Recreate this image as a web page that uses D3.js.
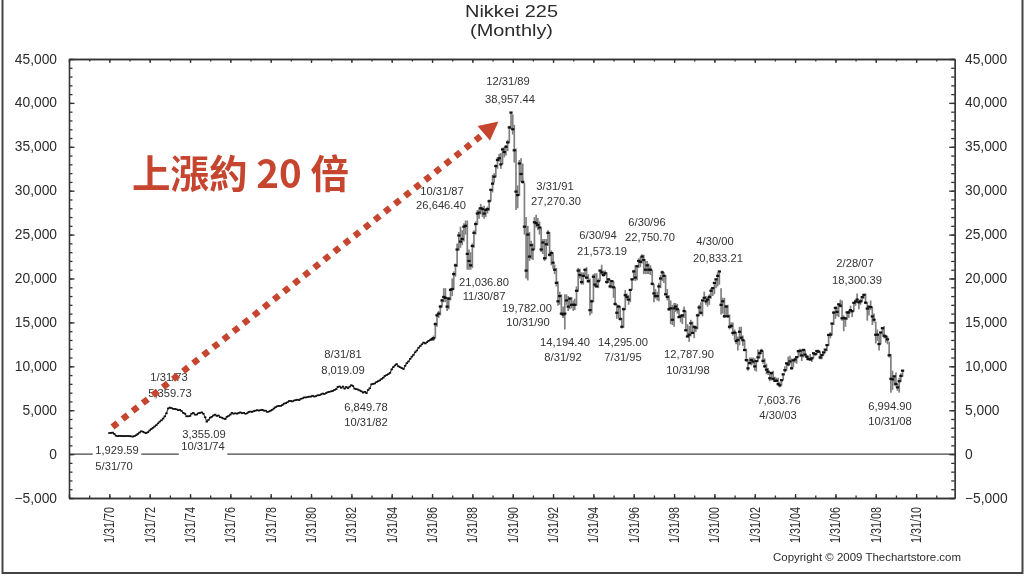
<!DOCTYPE html>
<html lang="zh-Hant"><head><meta charset="utf-8">
<script src="https://cdn.jsdelivr.net/npm/d3@7/dist/d3.min.js"></script>
<style>html,body{margin:0;padding:0;background:#fff;overflow:hidden}svg{display:block}
text{font-family:"Liberation Sans",Arial,sans-serif;fill:#2b2b2b}</style></head><body>
<svg id="c" width="1024" height="576"></svg>
<script>
// ---- Data ----
const titleLines = ["Nikkei 225", "(Monthly)"];
const copyrightText = "Copyright © 2009 Thechartstore.com";
const calloutText = "上漲約 20 倍";
const yTickValues = [-5000,0,5000,10000,15000,20000,25000,30000,35000,40000,45000];
const xLabelYears = [1970,1972,1974,1976,1978,1980,1982,1984,1986,1988,1990,1992,1994,1996,1998,2000,2002,2004,2006,2008,2010];
const closes1970to1985 = [
2400,2420,2450,2300,2100,2050,2080,2070,2050,2050,2060,2060,
2050,2020,2000,2050,2150,2300,2450,2600,2550,2450,2400,2500,
2700,2850,3000,3150,3300,3500,3700,3850,4050,4300,4650,5200,
5300,5250,5150,5150,5100,5000,5050,4900,4700,4600,4300,4300,
4350,4600,4700,4500,4500,4650,4700,4750,4600,4200,3700,3900,
4150,4250,4400,4500,4350,4400,4200,4150,4050,4000,4250,4350,
4500,4700,4600,4650,4600,4700,4750,4650,4700,4600,4650,4800,
4850,4800,4900,4950,5000,4950,5000,5050,4950,4950,4800,4850,
4950,5050,5200,5350,5450,5500,5500,5600,5750,5800,5900,6050,
6050,6000,6100,6150,6200,6150,6300,6350,6450,6450,6500,6550,
6550,6650,6550,6600,6700,6700,6800,6900,6850,6950,7050,7100,
7150,7200,7300,7400,7650,7700,7550,7700,7450,7650,7500,7680,
7850,7750,7450,7400,7350,7250,7150,7000,7100,6950,7300,7500,
7950,8000,8050,8200,8300,8400,8550,8700,8900,9000,9100,9250,
9650,9900,10100,10250,10000,9900,9800,9700,10050,10350,10550,10850,
11100,11300,11600,11800,12100,12300,12500,12700,12600,12750,12900,13000];
const closes1986to2009 = [
13100,13200,14800,15800,16000,16800,17500,17900,17800,16800,17700,18700,
18800,20500,21500,23300,24900,24200,24500,25900,26000,22800,22000,21500,
23700,25200,26200,27400,27500,28000,27900,27400,27800,27900,28800,30100,
30800,31600,32800,33500,33700,33000,34700,34400,35000,35500,37200,38900,
37000,34600,29900,29500,33100,31900,31000,25900,20900,25000,22500,23800,
23300,26400,26300,26100,25800,23300,24100,22300,23900,25200,22700,22900,
21800,21000,19500,17400,18000,16000,15900,16000,17500,16800,17700,17000,
17000,17000,18600,20900,20400,19600,20300,21000,20100,19700,16400,17400,
20200,19300,19100,19700,20900,20700,20400,20600,19600,19900,19100,19700,
19000,17100,16100,16800,15400,14500,16500,18100,17900,17600,18700,19900,
20800,20100,21400,22000,21900,22500,22100,21000,21500,21000,21000,19400,
18300,18000,18000,19100,20000,20700,20300,18200,17900,16500,16600,15300,
16600,16800,16500,15600,15700,15800,16300,14100,13400,13600,14900,13800,
14500,14400,15800,16700,16100,17500,17800,17400,17600,17900,18600,18900,
19500,19900,20300,20800,17000,17400,15700,16800,15700,14500,14600,13800,
13840,12880,13000,13930,13260,12970,11860,10710,9770,10370,10700,10540,
9990,10590,11020,11490,11760,10620,10000,9620,9380,8640,9220,8580,
8340,8360,7970,7830,8420,9080,9560,10340,10220,10560,9780,10680,
10780,11040,11720,11760,11240,11860,11330,11080,10820,10770,10900,11490,
11390,11740,11670,11010,11280,11580,11900,12410,13570,13610,14870,16110,
16650,16200,17060,16900,15470,15500,15450,16140,16130,16400,16270,17230,
17380,17600,17290,17400,17880,18140,17250,16570,16790,16740,15680,15310,
13590,13600,12530,13850,14340,13480,13380,13070,11260,8580,8510,8860,
7990,7600,8300,8900,9500];
const highs1986to2009 = [
13300,13500,15000,16000,16300,17000,17700,18900,18900,17900,17900,18900,
20000,20800,21700,24000,25300,25900,25500,26300,26600,26600,23300,23000,
24000,25500,26500,27800,28100,28500,28200,28300,28000,28200,29000,30200,
31800,32000,33000,33800,34200,34300,34900,35000,35200,35800,37400,38957,
38700,37500,34800,30600,33500,33700,33100,30900,27000,26000,25300,24300,
24000,27000,27270,26900,26500,25900,24500,24500,24500,25500,25300,23200,
23000,21600,21200,19700,18500,18200,16800,18200,18200,18000,17900,17900,
17500,17700,19100,21200,21100,20700,20700,21100,21300,20500,20000,17600,
20500,20600,20600,20000,21000,21573,20900,20900,20700,20000,19900,19800,
19700,19000,17100,17000,16900,15500,16700,18700,18300,18100,18800,20000,
21000,21500,21500,22300,22500,22750,22700,22000,22000,21700,21500,21000,
19400,18800,18500,19500,20400,20900,20700,20400,18800,18100,17500,17000,
17200,17200,17100,16500,15900,15900,16800,16300,14800,14600,15300,15100,
14600,14600,16000,17000,17300,17600,18500,18000,17900,18200,18900,19000,
19600,20000,20700,20833,18900,17800,17800,17000,17000,15900,15000,15000,
14200,13900,13400,14500,14500,13500,13000,12000,10800,11000,11000,11000,
10900,10700,11900,11700,12000,11800,10900,10300,9800,9400,9400,9500,
8800,8700,8700,8200,8500,9200,10000,10400,11100,11200,10900,10700,
11000,11100,11800,12000,11900,12000,11900,11300,11200,11400,11100,11500,
11500,11800,11900,11700,11300,11700,11900,12500,13600,13900,14900,16300,
16800,16800,17100,17600,17500,15800,15600,16200,16400,16900,16400,17300,
17600,18300,17500,17700,17900,18200,18300,17300,16900,17500,16800,16000,
15100,14200,13700,13900,14400,14600,13600,13400,12800,11400,9500,8900,
9300,8000,8700,9200,9600];
const lows1986to2009 = [
12900,12900,13200,14500,15500,15800,16700,17300,17300,16300,16500,17500,
18000,18700,20200,21300,23200,23500,23800,24200,25000,21000,21000,21000,
21200,23500,25000,26100,26800,27300,27000,26800,27000,27400,27700,28800,
29800,30900,31500,32500,33300,32500,33000,33800,34000,34500,35400,37000,
36400,33200,27800,28000,29400,31000,30800,25000,20000,19782,22000,22200,
22100,23300,25800,25500,25000,23000,22800,22000,22200,23700,22500,21500,
21100,20500,19100,16900,17000,15800,15500,14194,17000,16300,16500,16600,
16300,16400,16900,18500,20000,19300,19300,20100,19900,19500,15800,16000,
17300,19000,19000,18900,19700,20400,20200,20300,19400,19500,18900,18900,
17800,16900,15400,15500,15200,14295,14400,16400,17500,17000,17300,18700,
19800,19700,19800,21200,21300,21700,20500,20500,20500,20500,20400,19200,
17300,17700,17500,17400,18900,19700,19500,18100,17500,16300,14800,14700,
14500,16200,16000,15500,15000,14800,15500,14000,13300,12787,13400,13700,
13200,13900,14200,15700,15900,15700,17500,17000,16800,17000,17700,18000,
18200,18900,19100,19300,15900,16000,15500,15600,15500,14200,14300,13500,
13000,12500,11800,12400,13000,12300,11700,10500,9500,10200,10100,10200,
9500,9400,10500,10900,11400,10300,9800,9100,9000,8300,8400,8400,
8300,8200,7800,7604,7800,8400,9300,9500,10000,10300,9600,9900,
10400,10300,11000,11100,10600,11000,11100,10700,10800,10700,10500,10900,
11200,11300,11500,10800,10800,11200,11500,11700,12300,13200,13500,14700,
15400,15700,15600,16700,15200,14000,14500,15300,15500,16200,15600,16200,
16900,17200,16500,17000,17300,17700,17100,15200,15800,16400,14700,15000,
12600,12900,11800,12500,13600,13200,12700,12500,11000,6995,7300,7800,
7700,7200,7000,8200,8800];
const noteTexts = [
["12/31/89","38,957.44"],["3/31/91","27,270.30"],["10/31/87","26,646.40"],["21,036.80","11/30/87"],
["19,782.00","10/31/90"],["14,194.40","8/31/92"],["6/30/94","21,573.19"],["6/30/96","22,750.70"],
["4/30/00","20,833.21"],["14,295.00","7/31/95"],["12,787.90","10/31/98"],["2/28/07","18,300.39"],
["7,603.76","4/30/03"],["6,994.90","10/31/08"],["8/31/81","8,019.09"],["6,849.78","10/31/82"],
["1/31/73","5,359.73"],["3,355.09","10/31/74"],["1,929.59","5/31/70"]];

// ---- Layout (page pixels, separate from the data) ----
const notePlaces = [
[[508,81],[510,99]],[[555,186],[556,201]],[[442,191],[441,205]],[[484,282],[484,296]],
[[527,308],[528,322]],[[565,342],[563,357]],[[598,235],[602,251]],[[647,222],[650,237]],
[[715,241],[718,258]],[[623,342],[623,357]],[[689,354],[688,370]],[[855,263],[857,280]],
[[779,400],[778,415]],[[890,406],[890,421]],[[343,354],[343,370]],[[366,407],[366,422]],
[[169,377],[170,393]],[[204,434],[203,446]],[[117,450],[114,466]]];
const L=69,R=954.7,T=59,B=498;
const monthEnd=(y,m)=>new Date(y,m+1,0);
const x=d3.scaleTime().domain([monthEnd(1968,0),monthEnd(2011,11)]).range([L,R]);
const y=d3.scaleLinear().domain([-5000,45000]).range([B,T]);

const svg=d3.select("#c");
const g=svg.append("g").style("filter","blur(0.4px)");

// page frame
[[2.5,0,2.5,574],[2.5,573,1022.5,573],[1022.5,0,1022.5,574]].forEach(s=>
  svg.append("line").attr("x1",s[0]).attr("y1",s[1]).attr("x2",s[2]).attr("y2",s[3]).attr("stroke","#444").attr("stroke-width",2));

// title
titleLines.forEach((t,i)=>g.append("text").text(t).attr("x",511.5).attr("y",i?36:17).attr("text-anchor","middle")
  .attr("font-size",16.5).attr("textLength",i?83:93).attr("lengthAdjust","spacingAndGlyphs"));

// zero line
g.append("line").attr("x1",L).attr("x2",R).attr("y1",y(0)).attr("y2",y(0)).attr("stroke","#444").attr("stroke-width",1.2);

// axes
const minorY=d3.range(-5000,45001,1000), minorYears=d3.range(1968,2012);
const fmt=d3.format(",");
function axis(fn,scale,vals,size,tx,ty){
  const a=g.append("g").attr("transform",`translate(${tx},${ty})`)
   .call(fn(scale).tickValues(vals).tickSizeInner(size).tickSizeOuter(0).tickFormat(""));
  a.selectAll("path,line").attr("stroke","#333").attr("stroke-width",1.3);
  return a;
}
axis(d3.axisLeft,y,minorY,-3.5,L,0);axis(d3.axisLeft,y,yTickValues,-5.5,L,0);
axis(d3.axisRight,y,minorY,-3.5,R,0);axis(d3.axisRight,y,yTickValues,-5.5,R,0);
const yrDates=minorYears.map(v=>monthEnd(v,0)), lblDates=xLabelYears.map(v=>monthEnd(v,0));
axis(d3.axisBottom,x,yrDates,-2.5,0,B);axis(d3.axisBottom,x,[monthEnd(1968,0)].concat(lblDates),-4,0,B);
axis(d3.axisTop,x,yrDates,-2.5,0,T);axis(d3.axisTop,x,[monthEnd(1968,0)].concat(lblDates),-4,0,T);

yTickValues.forEach(v=>{
  g.append("text").text(fmt(v)).attr("x",57).attr("y",y(v)+4.5).attr("text-anchor","end").attr("font-size",13.8);
  g.append("text").text(fmt(v)).attr("x",965).attr("y",y(v)+4.5).attr("font-size",13.8);
});
const dfmt=d3.timeFormat("%-m/%-d/%y");
lblDates.forEach(d=>g.append("text").text(dfmt(d))
  .attr("transform",`translate(${x(d)+5},507) rotate(-90)`).attr("text-anchor","end")
  .attr("font-size",14).attr("textLength",36).attr("lengthAdjust","spacingAndGlyphs"));

g.append("text").text(copyrightText).attr("x",773).attr("y",561).attr("font-size",10.5)
  .attr("textLength",188).attr("lengthAdjust","spacingAndGlyphs");

// annotations (white boxes knock out the zero line)
noteTexts.forEach((pair,i)=>pair.forEach((t,j)=>{
  const p=notePlaces[i][j];
  const el=g.append("text").text(t).attr("x",p[0]).attr("y",p[1]+4).attr("text-anchor","middle").attr("font-size",11.2).style("fill","#333");
  const b=el.node().getBBox();
  if(b.y<y(0)+1 && b.y+b.height>y(0)-3){
    g.append("rect").attr("x",b.x-2.5).attr("y",b.y).attr("width",b.width+5).attr("height",y(0)+2-b.y).attr("fill","#fff");
    el.raise();
  }
}));

// early closes as a black line with close ticks, later months as high-low bars with close tick
const early=closes1970to1985.map((c,i)=>({d:monthEnd(1970,i),c}));
const late=closes1986to2009.map((c,i)=>({d:monthEnd(1986,i),c,h:highs1986to2009[i],l:lows1986to2009[i]}));
g.append("path").datum(early.concat(late.slice(0,1))).attr("fill","none").attr("stroke","#444").attr("stroke-width",1.2)
  .attr("d",d3.line().x(d=>x(d.d)).y(d=>y(d.c)));
g.append("g").selectAll("line").data(late).join("line")
  .attr("x1",d=>x(d.d)).attr("x2",d=>x(d.d)).attr("y1",d=>y(d.h)).attr("y2",d=>y(d.l))
  .attr("stroke","#808080").attr("stroke-width",1.7);
g.append("g").selectAll("rect.e").data(early).join("rect").attr("class","e")
  .attr("x",d=>x(d.d)-1.2).attr("y",d=>y(d.c)-0.8).attr("width",2.4).attr("height",1.6).attr("fill","#111");
g.append("g").selectAll("rect.l").data(late).join("rect").attr("class","l")
  .attr("x",d=>x(d.d)-1.6).attr("y",d=>y(d.c)-1.1).attr("width",3.2).attr("height",2.2).attr("fill","#111");

// callout arrow and text
const red="#c6452f";
svg.append("line").attr("x1",112.5).attr("y1",427).attr("x2",481).attr("y2",136)
  .attr("stroke",red).attr("stroke-width",6.4).attr("stroke-dasharray","6.4 6.45");
svg.append("path").attr("fill",red).attr("d",d3.line()([[498.5,121.5],[477.5,126],[490,140.5]]));
svg.append("text").text(calloutText).attr("x",132).attr("y",188).attr("font-size",38.5).attr("font-weight",700)
  .style("font-family",'"Noto Sans CJK TC"').style("fill",red);
</script></body></html>
